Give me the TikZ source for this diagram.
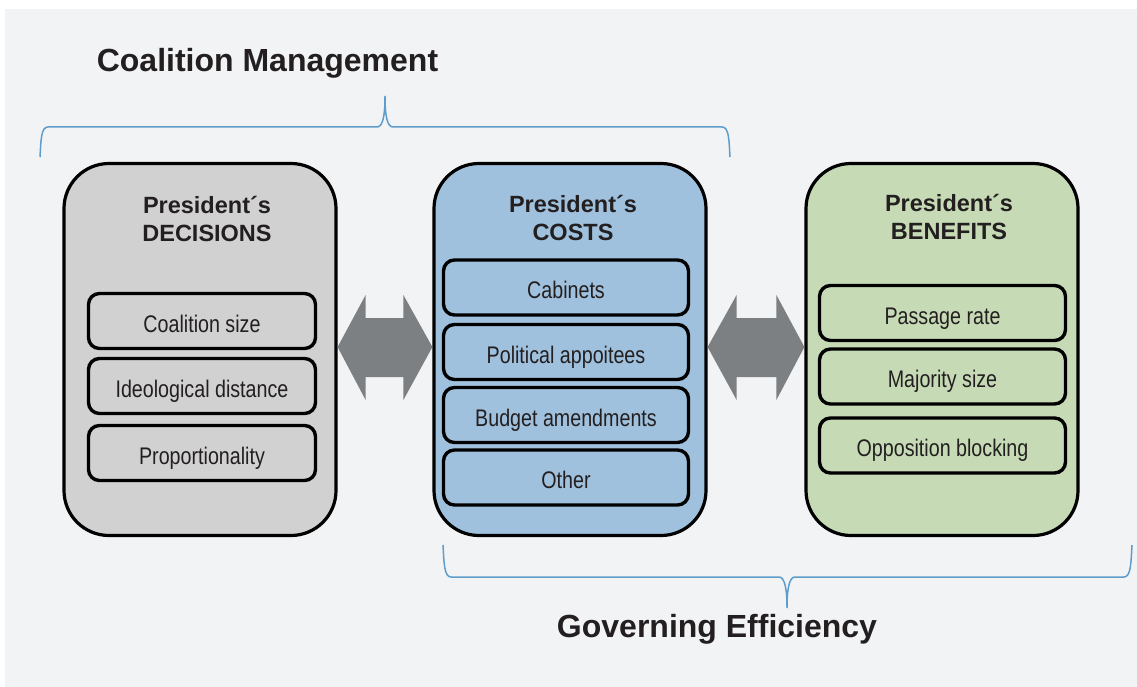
\documentclass[tikz,border=0pt]{standalone}
\usepackage{fontspec}
\setmainfont{Liberation Sans}
\newfontfamily\narrowfont[FakeStretch=0.82]{Liberation Sans}
\usetikzlibrary{calc}
\definecolor{bg}{HTML}{F2F3F5}
\definecolor{graybox}{HTML}{D1D1D1}
\definecolor{bluebox}{HTML}{A0C1DD}
\definecolor{greenbox}{HTML}{C6DBB5}
\definecolor{arrowgray}{HTML}{7C8082}
\definecolor{braceblue}{HTML}{5E9DCB}
\definecolor{ink}{HTML}{231F20}
\begin{document}
\begin{tikzpicture}[x=1pt,y=-1pt,
 outerbox/.style={draw=black, line width=3.2pt, rounded corners=45pt, minimum width=272pt, minimum height=372pt, inner sep=0pt},
 itembox/.style={draw=black, line width=3.4pt, rounded corners=11pt, minimum height=55pt, inner sep=0pt, text height=22pt, text depth=0pt, font=\narrowfont\fontsize{24}{28}\selectfont, text=ink},
 boxtitle/.style={align=center, font=\bfseries\fontsize{23.5}{28}\selectfont, text=ink},
 bigtitle/.style={font=\bfseries\fontsize{32}{38}\selectfont, text=ink, anchor=base},
 brace/.style={draw=braceblue, line width=1.5pt},
 dblarrow/.style={fill=arrowgray}]

\useasboundingbox (0,0) rectangle (1137,687);
\fill[bg] (5,9) rectangle (1137,687);

% outer boxes
\node[outerbox, fill=graybox]  (L) at (200,349.5) {};
\node[outerbox, fill=bluebox]  (M) at (570,349.5) {};
\node[outerbox, fill=greenbox] (R) at (942,349.5) {};

% titles
\node[boxtitle] (tL) at (207,219) {President´s\\DECISIONS};
\node[boxtitle] (tM) at (573,218) {President´s\\COSTS};
\node[boxtitle] (tR) at (949,217) {President´s\\BENEFITS};

% left items
\node[itembox, minimum width=227pt] (l1) at (202,321) {Coalition size};
\node[itembox, minimum width=227pt] (l2) at (202,386) {Ideological distance};
\node[itembox, minimum width=227pt] (l3) at (202,453) {Proportionality};

% middle items
\node[itembox, minimum width=245pt] (m1) at (566,287.5) {Cabinets};
\node[itembox, minimum width=245pt] (m2) at (566,352) {Political appoitees};
\node[itembox, minimum width=245pt] (m3) at (566,415) {Budget amendments};
\node[itembox, minimum width=245pt] (m4) at (566,477.5) {Other};

% right items
\node[itembox, minimum width=246pt] (r1) at (942.5,313) {Passage rate};
\node[itembox, minimum width=246pt] (r2) at (942.5,376.5) {Majority size};
\node[itembox, minimum width=246pt] (r3) at (942.5,445.5) {Opposition blocking};

% double block arrows
\fill[dblarrow] let \p1=([yshift=2.5pt]L.east), \p2=([yshift=2.5pt]M.west) in
 (\p1) -- (\x1+28pt,\y1+52pt) -- (\x1+28pt,\y1+29pt) -- (\x2-29pt,\y1+29pt) -- (\x2-29pt,\y1+52pt)
 -- (\p2) -- (\x2-29pt,\y1-53pt) -- (\x2-29pt,\y1-30pt) -- (\x1+28pt,\y1-30pt) -- (\x1+28pt,\y1-53pt) -- cycle;
\fill[dblarrow] let \p1=([yshift=2.5pt]M.east), \p2=([yshift=2.5pt]R.west) in
 (\p1) -- (\x1+29pt,\y1+52pt) -- (\x1+29pt,\y1+29pt) -- (\x2-28pt,\y1+29pt) -- (\x2-28pt,\y1+52pt)
 -- (\p2) -- (\x2-28pt,\y1-53pt) -- (\x2-28pt,\y1-30pt) -- (\x1+29pt,\y1-30pt) -- (\x1+29pt,\y1-53pt) -- cycle;

% braces
\draw[brace] (40,157) .. controls (41,140) and (41,127) .. (48,127) -- (377,127)
  .. controls (383,127) and (385,115) .. (385,96)
  .. controls (385,115) and (387,127) .. (393,127) -- (722,127)
  .. controls (729,127) and (729,140) .. (730,157);
\draw[brace] (443,545) .. controls (444,562) and (444,577) .. (451,577) -- (779,577)
  .. controls (785,577) and (787,590) .. (787,608)
  .. controls (787,590) and (789,577) .. (795,577) -- (1124,577)
  .. controls (1131,577) and (1131,562) .. (1132,545);

% big titles
\node[bigtitle] (cm) at (267.5,72) {Coalition Management};
\node[bigtitle] (ge) at (717,637) {Governing Efficiency};
\end{tikzpicture}
\end{document}
